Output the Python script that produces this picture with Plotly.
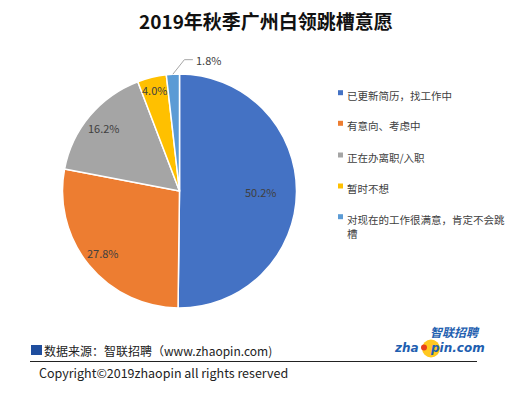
import math
import plotly.graph_objects as go

categories = ["已更新简历，找工作中", "有意向、考虑中", "正在办离职/入职", "暂时不想", "对现在的工作很满意，肯定不会跳槽"]
legend_labels = ["已更新简历，找工作中", "有意向、考虑中", "正在办离职/入职", "暂时不想", "对现在的工作很满意，肯定不会跳<br>槽"]
values = [50.2, 27.8, 16.2, 4.0, 1.8]
colors = ["#4472C4", "#ED7D31", "#A5A5A5", "#FFC000", "#5B9BD5"]
title = "2019年秋季广州白领跳槽意愿"
source = "数据来源：智联招聘（www.zhaopin.com)"
copyright_text = "Copyright©2019zhaopin all rights reserved"

# label placement style (fraction of radius for each inside label; last one is outside)
label_radius = [0.70, 0.84, 0.84, 0.89, None]

FONT = "Microsoft YaHei, Noto Sans CJK SC, sans-serif"
W, H = 517, 399
cx, cy, r = 179.5, 191, 117

def px(x):
    return x / W

def py(y):
    return 1 - y / H

fig = go.Figure()
fig.add_trace(go.Pie(
    labels=categories, values=values, sort=False, direction="clockwise", rotation=0,
    marker=dict(colors=colors, line=dict(color="white", width=1.5)),
    textinfo="none",
    domain=dict(x=[px(cx - r), px(cx + r)], y=[py(cy + r), py(cy - r)]),
    showlegend=False, hoverinfo="label+value",
))

annotations = [dict(text=f"<b>{title}</b>", x=px(266), y=py(21), xref="paper", yref="paper",
                    showarrow=False, font=dict(family=FONT, size=19, color="#111111"),
                    xanchor="center", yanchor="middle")]
shapes = []

# data labels positioned from the slice angles
total = sum(values)
cum = 0.0
for v, fr in zip(values, label_radius):
    mid = (cum + v / 2) / total * 2 * math.pi
    cum += v
    txt = f"{v:.1f}%"
    if fr is not None:
        lx = cx + fr * r * math.sin(mid)
        ly = cy - fr * r * math.cos(mid)
        annotations.append(dict(text=txt, x=px(lx), y=py(ly), xref="paper", yref="paper",
                                showarrow=False, xanchor="center", yanchor="middle",
                                font=dict(family=FONT, size=11, color="#404040")))
    else:
        ax0 = cx + r * math.sin(mid)
        ay0 = cy - r * math.cos(mid)
        ex, ey = ax0 + 11.5, ay0 - 14.5
        hx = ex + 8.5
        shapes.append(dict(type="path", xref="paper", yref="paper",
                           path=f"M {px(ax0)},{py(ay0)} L {px(ex)},{py(ey)} L {px(hx)},{py(ey)}",
                           line=dict(color="#A6A6A6", width=1)))
        annotations.append(dict(text=txt, x=px(hx + 1.5), y=py(ey), xref="paper", yref="paper",
                                showarrow=False, xanchor="left", yanchor="middle",
                                font=dict(family=FONT, size=11, color="#404040")))

# legend
legend_y = [92.7, 123.3, 155, 186, 216.7]
for lab, col, ly in zip(legend_labels, colors, legend_y):
    shapes.append(dict(type="rect", xref="paper", yref="paper",
                       x0=px(338), x1=px(343), y0=py(ly + 2.5), y1=py(ly - 2.5),
                       fillcolor=col, line=dict(width=0)))
    annotations.append(dict(text=lab, x=px(345), y=py(ly - 7), xref="paper", yref="paper",
                            showarrow=False, align="left", xanchor="left", yanchor="top",
                            font=dict(family=FONT, size=10.5, color="#404040")))

# footer
shapes.append(dict(type="rect", xref="paper", yref="paper", x0=px(31), x1=px(42),
                   y0=py(355), y1=py(345), fillcolor="#1F4E9E", line=dict(width=0)))
annotations.append(dict(text=source, x=px(42), y=py(350.5), xref="paper", yref="paper",
                        showarrow=False, xanchor="left", yanchor="middle",
                        font=dict(family=FONT, size=12, color="#222222")))
shapes.append(dict(type="line", xref="paper", yref="paper", x0=px(30), x1=px(477),
                   y0=py(361.5), y1=py(361.5), line=dict(color="#222222", width=1)))
annotations.append(dict(text=copyright_text, x=px(37), y=py(372), xref="paper", yref="paper",
                        showarrow=False, xanchor="left", yanchor="middle",
                        font=dict(family=FONT, size=12.5, color="#222222")))

# logo
shapes.append(dict(type="circle", xref="paper", yref="paper", x0=px(422), x1=px(440),
                   y0=py(357.5), y1=py(339.5), fillcolor="#FFC820", line=dict(width=0)))
annotations.append(dict(text="<b><i>zha</i></b>", x=px(421), y=py(348), xref="paper", yref="paper",
                        showarrow=False, xanchor="right", yanchor="middle",
                        font=dict(family="DejaVu Sans, sans-serif", size=12, color="#1F5FB0")))
shapes.append(dict(type="circle", xref="paper", yref="paper", x0=px(421), x1=px(427),
                   y0=py(350.5), y1=py(344.5), fillcolor="#E8401C", line=dict(width=0)))
annotations.append(dict(text="<b><i>pin.com</i></b>", x=px(428), y=py(348), xref="paper", yref="paper",
                        showarrow=False, xanchor="left", yanchor="middle",
                        font=dict(family="DejaVu Sans, sans-serif", size=12, color="#1F5FB0")))
annotations.append(dict(text="<b><i>智联招聘</i></b>", x=px(455), y=py(331), xref="paper", yref="paper",
                        showarrow=False, xanchor="center", yanchor="middle",
                        font=dict(family=FONT, size=12, color="#1F5FB0")))

fig.update_layout(width=W, height=H, autosize=False, margin=dict(l=0, r=0, t=0, b=0),
                  paper_bgcolor="white", plot_bgcolor="white",
                  annotations=annotations, shapes=shapes, showlegend=False)
fig.write_html("out.html", config=dict(displayModeBar=False),
               post_script="document.body.style.margin='0';document.body.style.overflow='hidden';")
